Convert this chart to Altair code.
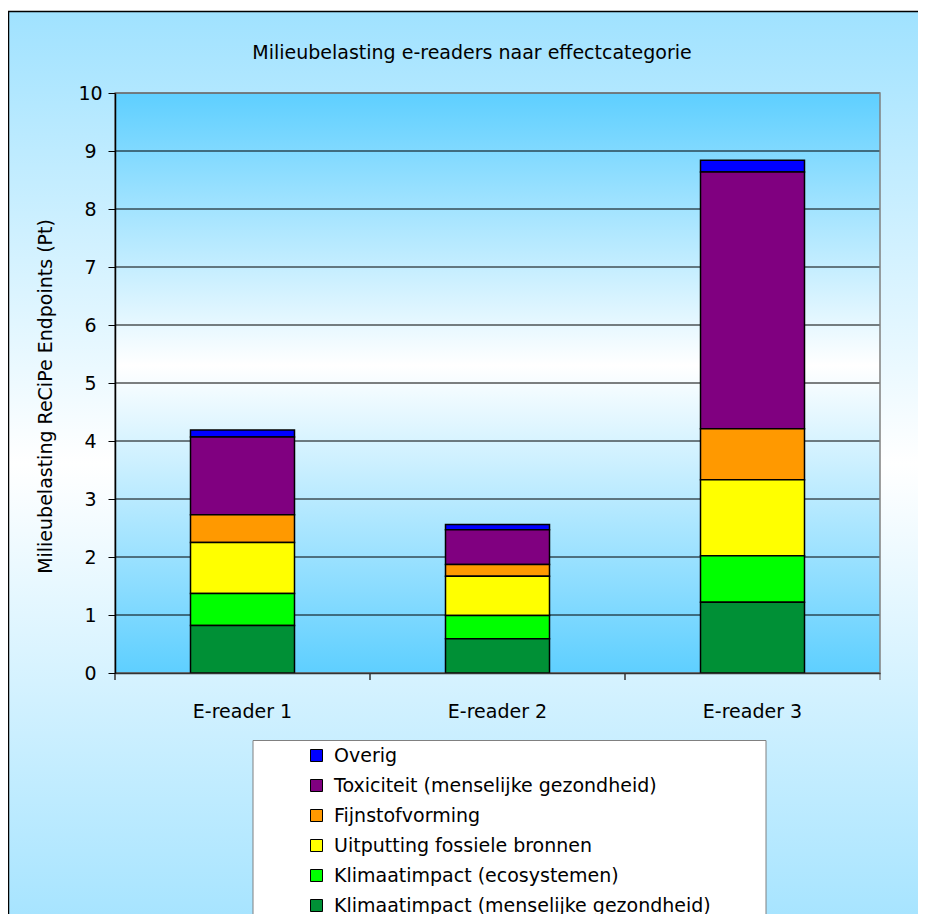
import altair as alt
import pandas as pd

# ---- data ----
categories = ["E-reader 1", "E-reader 2", "E-reader 3"]
series = [
    "Overig",
    "Toxiciteit (menselijke gezondheid)",
    "Fijnstofvorming",
    "Uitputting fossiele bronnen",
    "Klimaatimpact (ecosystemen)",
    "Klimaatimpact (menselijke gezondheid)",
]
colors = ["#0000FF", "#800080", "#FF9900", "#FFFF00", "#00FF00", "#009036"]
overig = [0.12, 0.09, 0.20]
toxiciteit = [1.34, 0.60, 4.43]
fijnstof = [0.48, 0.20, 0.88]
uitputting = [0.88, 0.68, 1.31]
klimaat_eco = [0.55, 0.40, 0.80]
klimaat_mens = [0.82, 0.59, 1.22]
y_ticks = [0, 1, 2, 3, 4, 5, 6, 7, 8, 9, 10]
chart_title = "Milieubelasting e-readers naar effectcategorie"
y_title = "Milieubelasting ReCiPe Endpoints (Pt)"

values_by_series = [overig, toxiciteit, fijnstof, uitputting, klimaat_eco, klimaat_mens]
rows = []
for i, (name, vals) in enumerate(zip(series, values_by_series)):
    for cat, v in zip(categories, vals):
        rows.append({"categorie": cat, "reeks": name, "waarde": v,
                     "volgorde": len(series) - 1 - i})
df = pd.DataFrame(rows)

FONT = "DejaVu Sans"
W, H = 765, 580
one = pd.DataFrame({"d": [0]})

x_axis = alt.Axis(title=None, labelAngle=0, ticks=False, tickSize=0,
                  domainColor="#333333", domainWidth=1.5,
                  labelPadding=38, labelBaseline="middle",
                  labelFont=FONT, labelFontSize=19, labelColor="black",
                  zindex=1)
y_axis = alt.Axis(values=y_ticks, title=y_title, grid=False,
                  tickSize=7, tickColor="black", tickWidth=1,
                  domainColor="black", domainWidth=1.5,
                  labelAlign="center", labelBaseline="middle",
                  labelPadding=18, labelFont=FONT, labelFontSize=19,
                  labelColor="black",
                  titleFont=FONT, titleFontSize=19, titleFontWeight="normal",
                  titleColor="black", titleX=-70, titleY=303,
                  titleAngle=270, titleAlign="center",
                  titleBaseline="middle", zindex=1)
x_scale = alt.Scale(domain=categories, paddingInner=0, paddingOuter=0)
y_scale = alt.Scale(domain=[0, 10], nice=False)


def grad(c_end, mid=0.48):
    return alt.LinearGradient(
        gradient="linear", x1=0, x2=0, y1=0, y2=1,
        stops=[alt.GradientStop(color=c_end, offset=0),
               alt.GradientStop(color="#FFFFFF", offset=mid),
               alt.GradientStop(color=c_end, offset=1)])


outer_bg = alt.Chart(one).mark_rect(
    fill=grad("#A0E2FF", 0.48), stroke="black", strokeWidth=1.5
).encode(x=alt.value(-106.5), x2=alt.value(860), y=alt.value(-81.5), y2=alt.value(860))

legend_box = alt.Chart(one).mark_rect(
    fill="white", stroke="#808080", strokeWidth=1
).encode(x=alt.value(138), x2=alt.value(651), y=alt.value(647.5), y2=alt.value(860))

plot_bg = alt.Chart(one).mark_rect(fill=grad("#5ECFFF", 0.47)).encode(
    x=alt.value(0), x2=alt.value(W), y=alt.value(0), y2=alt.value(H))

grid = alt.Chart(pd.DataFrame({"waarde": y_ticks})).mark_rule(
    color="black", strokeWidth=1
).encode(y=alt.Y("waarde:Q", scale=y_scale, axis=y_axis),
         x=alt.value(0), x2=alt.value(W))

plot_border = alt.Chart(one).mark_rect(
    fill="transparent", stroke="#808080", strokeWidth=1.5
).encode(x=alt.value(0), x2=alt.value(W), y=alt.value(0), y2=alt.value(H))

x_ticks = alt.Chart(pd.DataFrame({"categorie": categories})).mark_rule(
    color="#333333", strokeWidth=1.5
).encode(
    x=alt.X("categorie:N", sort=categories, bandPosition=0, scale=x_scale, axis=x_axis),
    y=alt.value(H), y2=alt.value(H + 7))

x_tick_end = alt.Chart(one).mark_rule(color="#808080", strokeWidth=1.5).encode(
    x=alt.value(W), y=alt.value(H), y2=alt.value(H + 7))

bars = alt.Chart(df).mark_bar(stroke="black", strokeWidth=1.5, size=104).encode(
    x=alt.X("categorie:N", sort=categories, scale=x_scale, axis=x_axis),
    y=alt.Y("waarde:Q", stack="zero", scale=y_scale, axis=y_axis),
    color=alt.Color("reeks:N", sort=series,
                    scale=alt.Scale(domain=series, range=colors),
                    legend=alt.Legend(orient="none", legendX=192, legendY=653,
                                      title=None, symbolType="square",
                                      symbolSize=144, symbolStrokeColor="black",
                                      symbolStrokeWidth=1, labelFont=FONT,
                                      labelFontSize=19, labelColor="black",
                                      labelOffset=8, rowPadding=10, padding=0,
                                      labelLimit=600)),
    order=alt.Order("volgorde:Q", sort="ascending"),
)

title_text = alt.Chart(one).mark_text(
    text=chart_title, font=FONT, fontSize=19, color="black",
    align="center", baseline="alphabetic"
).encode(x=alt.value(357), y=alt.value(-34))

chart = alt.layer(
    outer_bg, legend_box, plot_bg, grid, plot_border, x_ticks, x_tick_end, bars, title_text
).properties(
    width=W, height=H, autosize="none",
    padding={"left": 107, "top": 85, "right": 38, "bottom": 241},
    background="white",
).configure_view(strokeWidth=0)

chart.save("out.html", embed_options={"renderer": "svg", "actions": False})
